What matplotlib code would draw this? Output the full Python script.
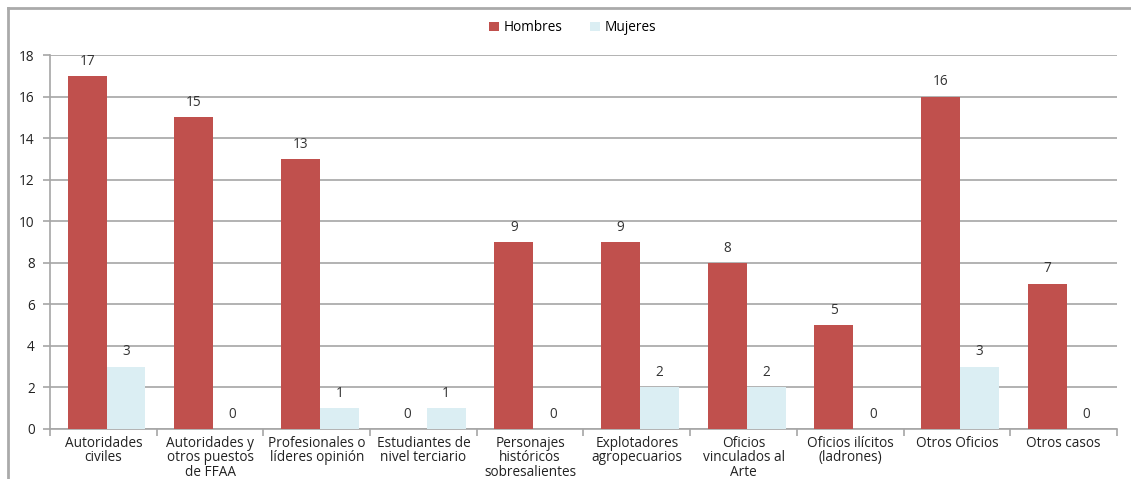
import numpy as np
import matplotlib.pyplot as plt
from matplotlib.lines import Line2D

plt.rcParams['font.family'] = ['Open Sans', 'DejaVu Sans']

categorias = ["Autoridades\nciviles", "Autoridades y\notros puestos\nde FFAA",
              "Profesionales o\nlíderes opinión", "Estudiantes de\nnivel terciario",
              "Personajes\nhistóricos\nsobresalientes", "Explotadores\nagropecuarios",
              "Oficios\nvinculados al\nArte", "Oficios ilícitos\n(ladrones)",
              "Otros Oficios", "Otros casos"]
hombres = [17, 15, 13, 0, 9, 9, 8, 5, 16, 7]
mujeres = [3, 0, 1, 1, 0, 2, 2, 0, 3, 0]

rojo = "#C0504D"
celeste = "#DBEEF3"
fs = 9.8

fig = plt.figure(figsize=(11.31, 4.79), dpi=100)
ax = fig.add_axes([0.0442, 0.1044, 0.9434, 0.7806])

x = np.arange(len(categorias))
w = 0.365
b1 = ax.bar(x - w / 2 + 0.03, hombres, w, color=rojo, label="Hombres", zorder=3)
b2 = ax.bar(x + w / 2 + 0.03, mujeres, w, color=celeste, label="Mujeres", zorder=3)

for barras in (b1, b2):
    for r in barras:
        h = r.get_height()
        ax.text(r.get_x() + r.get_width() / 2, h + 0.35, str(int(h)),
                ha="center", va="bottom", fontsize=fs, color="#333333")

ax.set_xlim(-0.5, len(categorias) - 0.5)
ax.set_ylim(0, 18)
ax.set_yticks(range(0, 19, 2))
ax.yaxis.grid(True, color="#A6A6A6", linewidth=1.2, zorder=0)
ax.set_xticks(x)
ax.set_xticklabels(categorias, fontsize=fs, color="#222222", linespacing=0.95)
ax.tick_params(axis="x", length=0, pad=5)
ax.set_xticks(np.arange(-0.5, len(categorias)), minor=True)
ax.tick_params(axis="x", which="minor", length=5, color="#A6A6A6", width=1.2)
ax.tick_params(axis="y", labelsize=fs, length=5, color="#A6A6A6", width=1.2,
               labelcolor="#222222", pad=6)
for s in ("top", "right"):
    ax.spines[s].set_visible(False)
for s in ("left", "bottom"):
    ax.spines[s].set_color("#A6A6A6")
    ax.spines[s].set_linewidth(1.2)

ax.legend(loc="lower center", bbox_to_anchor=(0.49, 1.02), ncol=2, frameon=False,
          fontsize=fs, handlelength=0.7, handleheight=0.7, columnspacing=2.0,
          handletextpad=0.4)

# marco exterior
fig.add_artist(Line2D([8 / 1131, 8 / 1131], [0, 1 - 8 / 479], transform=fig.transFigure,
                      color="#AAAAAA", linewidth=2))
fig.add_artist(Line2D([8 / 1131, 1], [1 - 8 / 479, 1 - 8 / 479], transform=fig.transFigure,
                      color="#AAAAAA", linewidth=2))

fig.savefig("out.png", dpi=100)
